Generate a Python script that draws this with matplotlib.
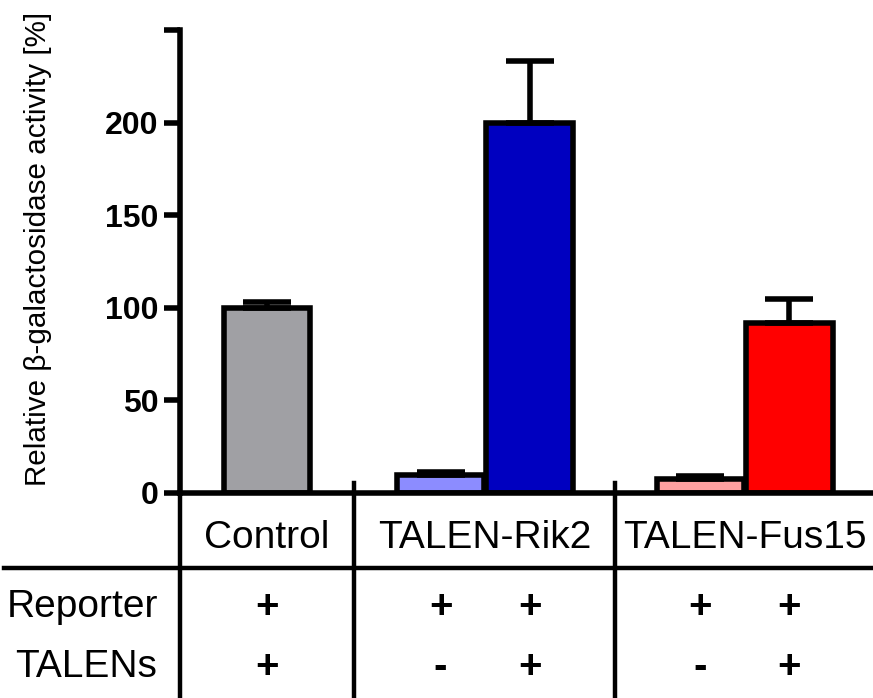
import matplotlib
matplotlib.use('Agg')
import matplotlib.pyplot as plt
import matplotlib.transforms as mtransforms

plt.rcParams['font.family'] = ['Liberation Sans', 'DejaVu Sans']

# Bar data (left to right)
values = [100, 9.5, 200, 7.5, 92]
errors = [3, 1.8, 33, 1.5, 12.5]
bar_colors = ['#a0a0a4', '#8c8cff', '#0000c0', '#ffa0a0', '#ff0000']

# Table below the bars
group_labels = ['Control', 'TALEN-Rik2', 'TALEN-Fus15']
reporter = ['+', '+', '+', '+', '+']
talens = ['+', '-', '+', '-', '+']

# layout (bar centres in units of one bar width)
xpos = [0, 1.95, 2.95, 4.87, 5.87]
group_x = [0, 2.45, 5.37]
sep_x = [0.98, 3.91]

W, H = 873, 698
fig = plt.figure(figsize=(W / 100, H / 100), dpi=100)
ax = fig.add_axes([180 / W, 1 - 493 / H, 1 - 180 / W, (493 - 30) / H])

lw = 4
ax.bar(xpos, values, width=0.97, color=bar_colors, edgecolor='black',
       linewidth=lw, zorder=2)
ax.errorbar(xpos, values, yerr=[[0] * len(errors), errors], fmt='none',
            ecolor='black', elinewidth=lw, capsize=17, capthick=lw, zorder=3)

ax.set_ylim(0, 250)
ax.set_xlim(-0.978, 6.81)
ax.set_yticks([0, 50, 100, 150, 200, 250])
ax.set_yticklabels(['0', '50', '100', '150', '200', ''], fontsize=23,
                   fontweight='bold')
ax.tick_params(axis='y', length=11.5, width=lw, pad=4)
ax.set_xticks([])
for s in ['top', 'right']:
    ax.spines[s].set_visible(False)
ax.spines['left'].set_linewidth(lw)
ax.spines['bottom'].set_linewidth(lw)

fig.text(38 / W, 1 - 249 / H, 'Relative β-galactosidase activity [%]',
         rotation=90, ha='center', va='center', fontsize=21.3)

# table lines and labels
trans = mtransforms.blended_transform_factory(ax.transData, fig.transFigure)
fy = lambda py: 1 - py / H

fig.add_artist(plt.Line2D([4 / W, 1], [fy(568), fy(568)], color='black',
                          linewidth=3.2, transform=fig.transFigure))
fig.add_artist(plt.Line2D([180 / W, 180 / W], [fy(493), 0], color='black',
                          linewidth=3.2, transform=fig.transFigure))
for sx in sep_x:
    ax.add_line(plt.Line2D([sx, sx], [fy(483), 0], color='black',
                           linewidth=3.2, transform=trans, clip_on=False))

for gx, lab in zip(group_x, group_labels):
    ax.text(gx, fy(538), lab, transform=trans, ha='center', va='center',
            fontsize=28)

fig.text(83 / W, fy(607), 'Reporter', ha='center', va='center', fontsize=28)
fig.text(86 / W, fy(667), 'TALENs', ha='center', va='center', fontsize=28)
for x, r, t in zip(xpos, reporter, talens):
    ax.text(x, fy(607), r, transform=trans, ha='center', va='center',
            fontsize=29, fontweight='bold')
    ax.text(x, fy(667), t, transform=trans, ha='center', va='center',
            fontsize=29, fontweight='bold')

fig.savefig('out.png', dpi=100)
